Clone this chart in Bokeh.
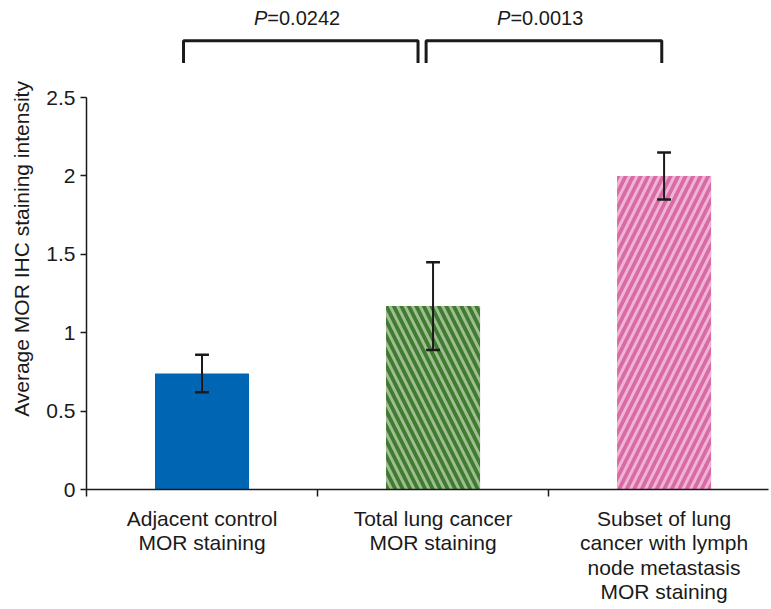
from bokeh.plotting import figure
from bokeh.models import FixedTicker, ColumnDataSource
from bokeh.core.properties import value
from bokeh.embed import file_html
from bokeh.resources import INLINE

categories = ["Adjacent control\nMOR staining",
              "Total lung cancer\nMOR staining",
              "Subset of lung\ncancer with lymph\nnode metastasis\nMOR staining"]
means = [0.74, 1.17, 2.00]
err_low = [0.62, 0.89, 1.85]
err_high = [0.86, 1.45, 2.15]
p_labels = ["=0.0242", "=0.0013"]
comparisons = [(0, 1), (1, 2)]
y_ticks = [0, 0.5, 1, 1.5, 2, 2.5]
y_tick_labels = ["0", "0.5", "1", "1.5", "2", "2.5"]

colors = ["#0066b3", "#3e7c32", "#d86ba6"]
hatch_colors = ["#0066b3", "#a2bd92", "#f1b3d4"]
hatches = [" ", "\\", "/"]

FONT = "Liberation Sans"
INK = "#1a1a1a"
xc = [i + 0.5 for i in range(len(categories))]

p = figure(width=770, height=606, x_range=(0, 2.952), y_range=(0, 3.068),
           output_backend="svg", toolbar_location=None,
           min_border_left=86, min_border_right=2, min_border_top=8, min_border_bottom=117)
p.outline_line_color = None
p.xgrid.visible = False
p.ygrid.visible = False

src = ColumnDataSource(dict(x=xc, top=means, color=colors, hc=hatch_colors, hp=hatches,
                            lo=err_low, hi=err_high))
p.vbar(x="x", top="top", bottom=0, width=0.407, source=src, fill_color="color",
       line_color=None, hatch_pattern="hp", hatch_color="hc", hatch_scale=15,
       hatch_weight=2.9, hatch_alpha=1.0)

p.segment(x0="x", y0="lo", x1="x", y1="hi", source=src, line_color=INK, line_width=2)
cap = 0.03
p.segment(x0=[x - cap for x in xc], y0=err_low, x1=[x + cap for x in xc], y1=err_low,
          line_color=INK, line_width=2.5)
p.segment(x0=[x - cap for x in xc], y0=err_high, x1=[x + cap for x in xc], y1=err_high,
          line_color=INK, line_width=2.5)

# significance brackets
bracket_offsets = [(-0.08, -0.065), (-0.03, -0.01)]
y_top, y_bot = 2.863, 2.72
for (a, b), (oa, ob), lab in zip(comparisons, bracket_offsets, p_labels):
    x0 = xc[a] + oa
    x1 = xc[b] + ob
    p.line([x0, x0, x1, x1], [y_bot, y_top, y_top, y_bot], line_color=INK, line_width=3)
    mid = (x0 + x1) / 2 - 0.145
    p.text(x=[mid], y=[3.005], text=["P"], text_font=value(FONT), text_font_size="20px",
           text_font_style="italic", text_align="right", text_baseline="middle", text_color=INK)
    p.text(x=[mid], y=[3.005], text=[lab], text_font=value(FONT), text_font_size="20px",
           text_align="left", text_baseline="middle", text_color=INK)

# axes
xa = p.xaxis[0]
xa.ticker = FixedTicker(ticks=xc, minor_ticks=[0, 1, 2])
xa.major_label_overrides = {x: c for x, c in zip(xc, categories)}
xa.major_tick_out = 0
xa.major_tick_in = 0
xa.minor_tick_out = 7
xa.minor_tick_in = 0
xa.minor_tick_line_width = 1.5
xa.minor_tick_line_color = INK
xa.axis_line_width = 1.5
xa.axis_line_color = INK
xa.major_label_text_font = FONT
xa.major_label_text_font_size = "21px"
xa.major_label_text_color = INK
xa.major_label_text_line_height = 1.07
xa.major_label_standoff = 10

ya = p.yaxis[0]
ya.bounds = (0, 2.5)
ya.ticker = FixedTicker(ticks=y_ticks, minor_ticks=[])
ya.major_label_overrides = {t: s for t, s in zip(y_ticks, y_tick_labels)}
ya.major_tick_out = 6
ya.major_tick_in = 0
ya.major_tick_line_width = 1.5
ya.major_tick_line_color = INK
ya.axis_line_width = 1.5
ya.axis_line_color = INK
ya.major_label_text_font = FONT
ya.major_label_text_font_size = "21px"
ya.major_label_text_color = INK
ya.major_label_standoff = 5
ya.axis_label = "Average MOR IHC staining intensity"
ya.axis_label_text_font = FONT
ya.axis_label_text_font_size = "21px"
ya.axis_label_text_font_style = "normal"
ya.axis_label_text_color = INK
ya.axis_label_standoff = 10

open("out.html", "w").write(file_html(p, INLINE))
